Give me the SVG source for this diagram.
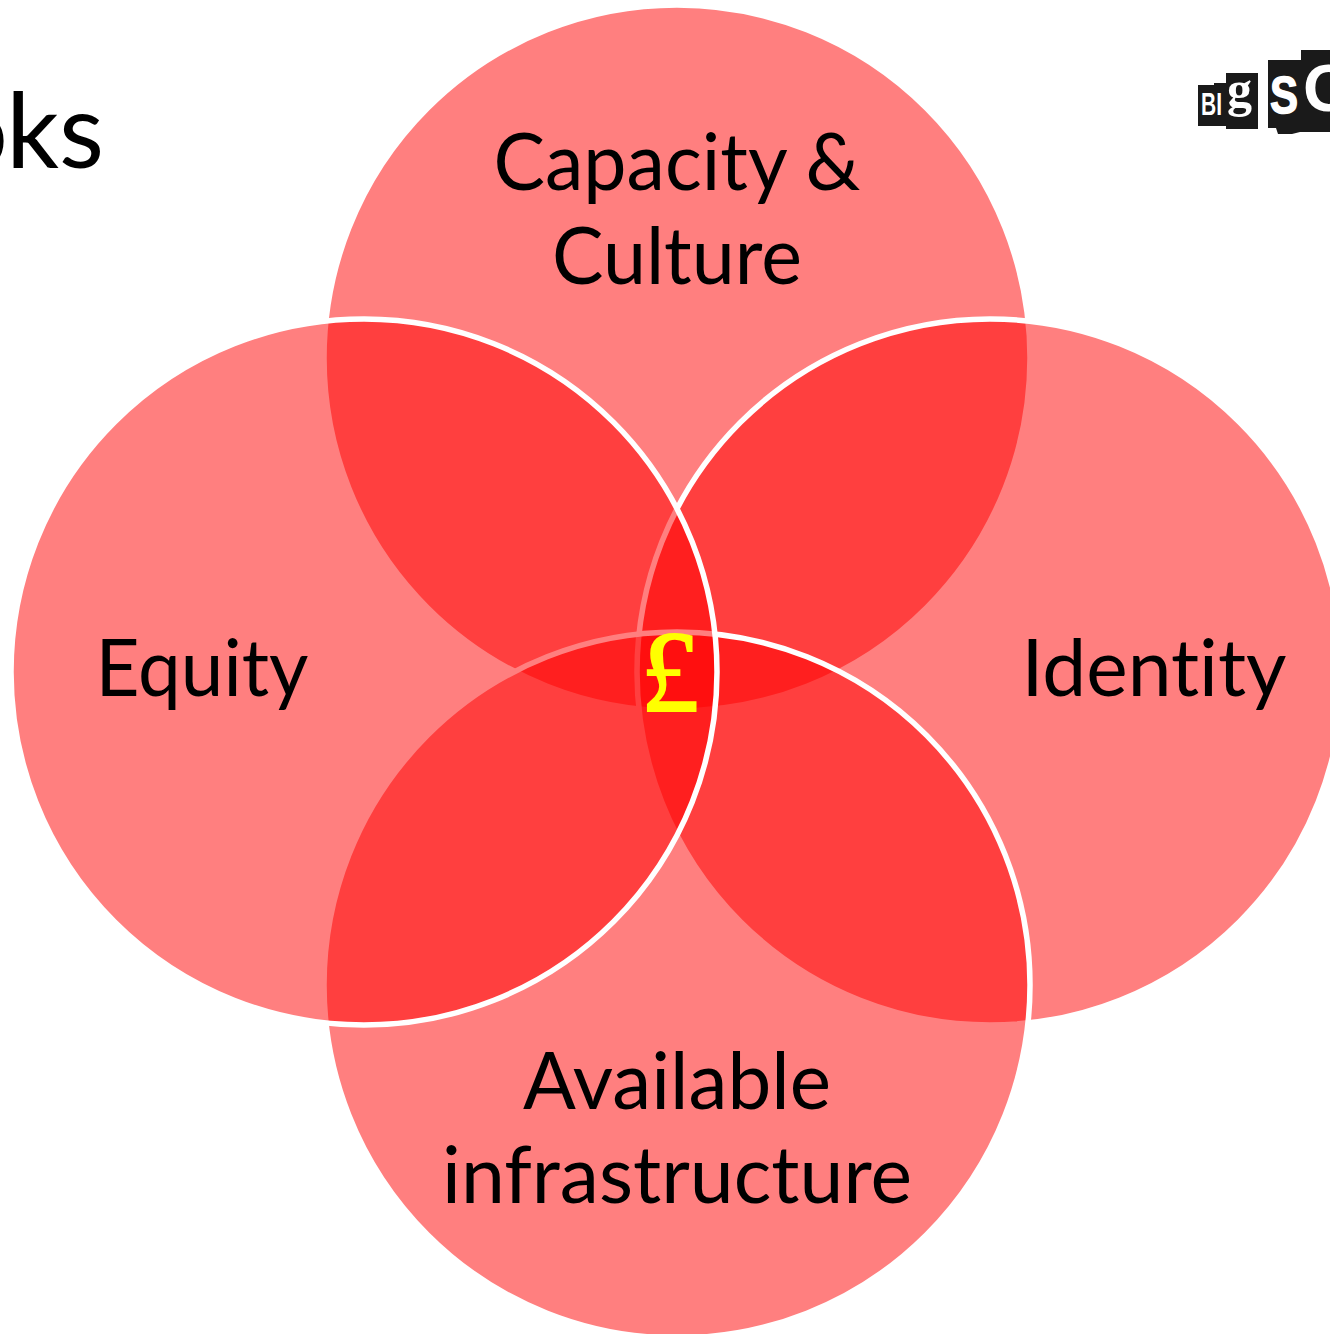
<svg xmlns="http://www.w3.org/2000/svg" width="1330" height="1334" viewBox="0 0 1330 1334">
<style>
.c{fill:#ff0000;fill-opacity:.5;stroke:#fff;stroke-width:5.5}
.t{font-family:"Lato","Open Sans",sans-serif;font-size:79px;fill:#000;text-anchor:middle;font-variant-ligatures:none}
.b{fill:#1a1a1a}
.l{font-family:"Liberation Sans",sans-serif;font-weight:bold;fill:#fff}
</style>
<rect width="1330" height="1334" fill="#fff"/>
<text x="8" y="168" font-family="Lato,sans-serif" font-size="104" text-anchor="end" fill="#000">o</text>
<text x="104" y="168" font-family="Lato,sans-serif" font-size="104" text-anchor="end" fill="#000">ks</text>
<g id="capacity"><circle class="c" cx="677" cy="358" r="353"/></g>
<g id="identity"><circle class="c" cx="990" cy="672" r="353"/></g>
<g id="infrastructure"><circle class="c" cx="677" cy="985" r="353"/></g>
<g id="equity"><circle class="c" cx="364" cy="672" r="353"/></g>
<g id="labels">
<text class="t" x="677" y="190" textLength="367" lengthAdjust="spacingAndGlyphs">Capacity &amp;</text>
<text class="t" x="677" y="284" textLength="250" lengthAdjust="spacingAndGlyphs">Culture</text>
<text class="t" x="202" y="696" textLength="213" lengthAdjust="spacingAndGlyphs">Equity</text>
<text class="t" x="1154" y="696" textLength="265" lengthAdjust="spacingAndGlyphs">Identity</text>
<text class="t" x="677" y="1109" textLength="308" lengthAdjust="spacingAndGlyphs">Available</text>
<text class="t" x="677" y="1203" textLength="470" lengthAdjust="spacingAndGlyphs">infrastructure</text>
<text x="670" y="711" font-family="Liberation Serif,serif" font-size="116" text-anchor="middle" fill="#ffff00" stroke="#ffff00" stroke-width="2">£</text>
</g>
<g id="logo">
<path class="b" d="M1198 85h16v-2h12v-10h32v56h-32v-3h-28z"/>
<path class="b" d="M1268 60h33v-10h29v82h-30l-8 2h-14l-2-6h-8z"/>
<text class="l" x="1201" y="115" font-size="31" textLength="21" lengthAdjust="spacingAndGlyphs">BI</text>
<text x="1227" y="106" font-family="Liberation Serif,serif" font-weight="bold" fill="#fff" font-size="50">g</text>
<text class="l" x="1270" y="113" font-size="52" textLength="28" lengthAdjust="spacingAndGlyphs" stroke="#fff" stroke-width="1.5">S</text>
<text class="l" x="1303" y="111" font-size="66">O</text>
</g>
</svg>
